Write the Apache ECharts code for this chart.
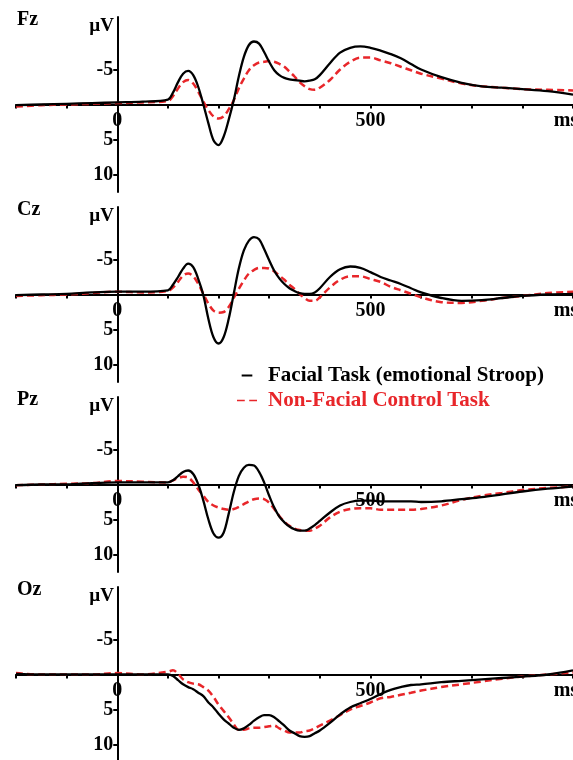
<!DOCTYPE html>
<html>
<head>
<meta charset="utf-8">
<script src="https://cdn.jsdelivr.net/npm/echarts@6/dist/echarts.min.js"></script>
<style>
html,body{margin:0;padding:0;background:#fff;}
#chart{width:573px;height:760px;}
</style>
</head>
<body>
<div id="chart"></div>
<script>
// time points (ms)
const times = [-200,-150,-100,-50,0,50,100,
  110,120,130,140,150,160,170,180,190,200,
  210,220,230,240,250,260,270,280,290,300,
  310,320,330,340,350,360,370,380,390,400,
  420,440,460,480,500,520,540,560,580,600,
  640,680,720,760,800,850,900];

const electrodes = ['Fz','Cz','Pz','Oz'];
const seriesNames = ['Facial Task (emotional Stroop)','Non-Facial Control Task'];

// amplitudes (µV), negative plotted upward
const fzFacial = [0.1,0,-0.1,-0.2,-0.3,-0.4,-0.7,
  -1.7,-3.2,-4.4,-4.8,-4.2,-2.5,0,2.7,5.1,5.8,
  4.6,2.2,-0.6,-4.0,-6.8,-8.5,-9.0,-8.7,-7.5,-6.1,
  -4.9,-4.2,-3.8,-3.6,-3.5,-3.4,-3.3,-3.4,-3.6,-4.2,
  -5.9,-7.4,-8.1,-8.3,-8.1,-7.7,-7.2,-6.6,-5.8,-5.0,
  -3.9,-3.1,-2.6,-2.4,-2.2,-1.9,-1.4];
const fzControl = [0.3,0.1,0,-0.1,-0.2,-0.3,-0.5,
  -1.2,-2.3,-3.2,-3.5,-3.0,-1.8,-0.4,0.8,1.7,2.0,
  1.7,0.7,-0.6,-2.3,-3.7,-4.9,-5.6,-6.0,-6.1,-6.2,
  -6.1,-5.8,-5.4,-4.7,-4.0,-3.2,-2.6,-2.2,-2.1,-2.4,
  -3.5,-5.0,-6.1,-6.7,-6.7,-6.3,-5.9,-5.4,-4.9,-4.4,
  -3.7,-3.0,-2.6,-2.4,-2.2,-2.1,-2.0];
const czFacial = [0.1,0,-0.1,-0.3,-0.4,-0.4,-0.6,
  -1.4,-2.5,-3.7,-4.4,-3.9,-2.2,0.1,3.5,6.1,7.0,
  6.1,3.5,-0.1,-3.7,-6.3,-7.7,-8.2,-7.9,-6.5,-4.9,
  -3.4,-2.3,-1.5,-0.9,-0.5,-0.2,-0.1,-0.1,-0.3,-0.9,
  -2.5,-3.6,-4.0,-3.8,-3.2,-2.5,-2.0,-1.5,-0.9,-0.3,
  0.5,0.9,0.8,0.5,0.2,0,-0.1];
const czControl = [0.2,0.1,0,-0.2,-0.4,-0.3,-0.5,
  -1.0,-1.8,-2.7,-3.0,-2.6,-1.5,-0.1,1.3,2.3,2.6,
  2.5,1.8,0.5,-0.8,-2.0,-3.0,-3.5,-3.8,-3.8,-3.7,
  -3.3,-2.7,-2.1,-1.4,-0.8,-0.1,0.5,0.9,0.9,0.4,
  -1.0,-2.1,-2.6,-2.6,-2.2,-1.8,-1.1,-0.6,-0.1,0.4,
  1.1,1.2,0.9,0.5,0.2,-0.2,-0.4];
const pzFacial = [0.1,0,0,-0.2,-0.3,-0.3,-0.3,
  -0.6,-1.2,-1.8,-2.0,-1.5,0,2.3,5.0,7.0,7.6,
  6.9,4.2,1.1,-1.2,-2.4,-2.8,-2.7,-1.8,-0.3,1.6,
  3.3,4.6,5.4,6.0,6.4,6.6,6.6,6.3,5.8,5.2,
  4.0,3.0,2.5,2.3,2.3,2.4,2.4,2.4,2.4,2.5,
  2.4,2.1,1.8,1.4,1.0,0.6,0.3];
const pzControl = [0.1,0,-0.1,-0.2,-0.5,-0.4,-0.3,
  -0.6,-0.9,-1.1,-1.0,-0.3,0.7,1.6,2.5,3.0,3.3,
  3.5,3.6,3.5,3.2,2.8,2.4,2.1,2.0,2.1,2.6,
  3.5,4.5,5.3,5.9,6.3,6.5,6.6,6.6,6.3,5.9,
  4.7,3.9,3.5,3.4,3.4,3.6,3.6,3.6,3.6,3.5,
  3.0,2.2,1.6,1.2,0.8,0.5,0.3];
const ozFacial = [-0.1,0,0,0,0,0,0,
  0.2,0.8,1.4,1.8,2.1,2.6,3.1,4.0,4.7,5.6,
  6.4,7.0,7.6,7.9,7.7,7.2,6.6,6.1,5.8,5.8,
  6.1,6.7,7.3,8.0,8.4,8.8,8.9,8.8,8.4,8.0,
  6.9,5.7,4.7,4.1,3.5,2.8,2.2,1.8,1.5,1.4,
  1.1,0.9,0.7,0.5,0.3,0,-0.6];
const ozControl = [-0.2,0,0,0,-0.2,0,-0.4,
  -0.6,-0.1,0.7,1.1,1.3,1.4,1.8,2.3,3.2,4.3,
  5.2,6.1,7.1,7.9,7.9,7.7,7.6,7.6,7.5,7.4,
  7.3,7.7,8.0,8.3,8.3,8.3,8.1,8.0,7.7,7.3,
  6.6,5.8,5.0,4.5,4.0,3.4,3.2,2.9,2.6,2.3,
  1.8,1.4,1.0,0.6,0.3,0,-0.3];

const panelData = [[fzFacial,fzControl],[czFacial,czControl],[pzFacial,pzControl],[ozFacial,ozControl]];

// tick / label values
const xTickLabels = [0, 500];
const yTickLabels = [-5, 5, 10];

const FONT = 'Liberation Serif';
const RED = '#e8262a';
const panelTops = [17, 207, 397, 587];
const GRID_LEFT = 16, GRID_W = 557, GRID_H = 175;
const X_MIN = -200, X_MAX = 900, Y_MIN = -12.5, Y_MAX = 12.5;
// axis lines sit on the zero of the other axis
const yAxisOffset = -GRID_W * (0 - X_MIN) / (X_MAX - X_MIN);
const xAxisOffset = -GRID_H * (Y_MAX - 0) / (Y_MAX - Y_MIN);

const grids = [], xAxes = [], yAxes = [], series = [], titles = [], graphics = [];
panelTops.forEach((top, p) => {
  grids.push({left: GRID_LEFT, width: GRID_W, top: top, height: GRID_H, containLabel: false, outerBoundsMode: 'none'});
  xAxes.push({
    gridIndex: p, type: 'value', min: X_MIN, max: X_MAX, interval: 100,
    position: 'bottom', offset: xAxisOffset,
    axisLine: {onZero: false, lineStyle: {color: '#000', width: 2}},
    axisTick: {show: true, length: 4, lineStyle: {color: '#000', width: 2}},
    axisLabel: {
      customValues: xTickLabels.concat([886]),
      formatter: v => (v === 886 ? 'ms' : String(v)),
      margin: 6, color: '#000', fontFamily: FONT, fontWeight: 'bold', fontSize: 20
    },
    splitLine: {show: false}
  });
  yAxes.push({
    gridIndex: p, type: 'value', inverse: true, min: Y_MIN, max: Y_MAX,
    position: 'left', offset: yAxisOffset,
    axisLine: {show: true, onZero: false, lineStyle: {color: '#000', width: 2}},
    axisTick: {show: true, length: 4, customValues: yTickLabels, lineStyle: {color: '#000', width: 2}},
    axisLabel: {customValues: yTickLabels, margin: 4, color: '#000', fontFamily: FONT, fontWeight: 'bold', fontSize: 20},
    splitLine: {show: false}
  });
  const [fac, ctl] = panelData[p];
  series.push({
    name: seriesNames[0], type: 'line', xAxisIndex: p, yAxisIndex: p,
    data: times.map((t, i) => [t, fac[i]]), smooth: 0.35, symbol: 'none',
    itemStyle: {color: '#000'}, lineStyle: {color: '#000', width: 2.3}, z: 3, animation: false
  });
  series.push({
    name: seriesNames[1], type: 'line', xAxisIndex: p, yAxisIndex: p,
    data: times.map((t, i) => [t, ctl[i]]), smooth: 0.35, symbol: 'none',
    itemStyle: {color: RED}, lineStyle: {color: RED, width: 2.5, type: [7, 4]}, z: 2, animation: false
  });
  titles.push({
    text: electrodes[p], left: 17, top: top - 7, padding: 0,
    textStyle: {fontFamily: FONT, fontWeight: 'bold', fontSize: 20, color: '#000'}
  });
  graphics.push({
    type: 'text', x: 114, y: top + 9,
    style: {text: 'µV', align: 'right', verticalAlign: 'middle', font: 'bold 19px "Liberation Serif"', fill: '#000'}
  });
});

const chart = echarts.init(document.getElementById('chart'), null, {renderer: 'canvas'});
chart.setOption({
  backgroundColor: '#fff',
  animation: false,
  title: titles,
  grid: grids,
  xAxis: xAxes,
  yAxis: yAxes,
  series: series,
  graphic: graphics,
  legend: {
    orient: 'vertical', left: 237, top: 365, itemGap: 4, itemWidth: 20, itemHeight: 2,
    padding: 0, selectedMode: false,
    textStyle: {fontFamily: FONT, fontWeight: 'bold', fontSize: 21, padding: [0, 0, 0, 6]},
    data: [
      {name: seriesNames[0], icon: 'path://M0,0H8V1.5H0Z', textStyle: {color: '#000'}},
      {name: seriesNames[1], icon: 'path://M0,0H7V1.5H0Z M11,0H18V1.5H11Z', textStyle: {color: RED}}
    ]
  }
});
</script>
</body>
</html>
